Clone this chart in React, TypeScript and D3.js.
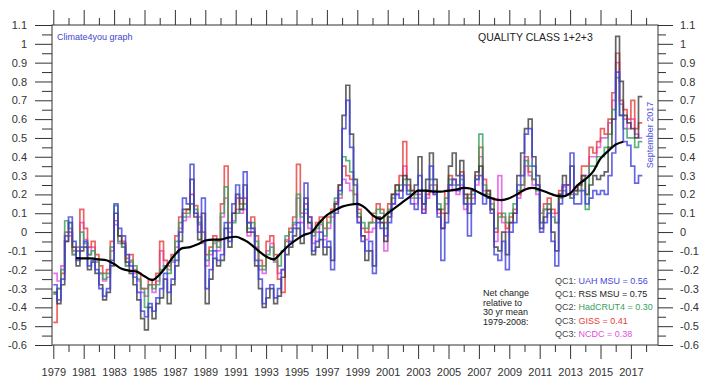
import React, { useEffect, useRef } from "react";
import * as d3 from "d3";

// quarterly anomalies (deg C, relative to 1979-2008), Q1 1979 .. Q3 2017
const uah = [
  -0.28, -0.36, -0.25, -0.02, 0.08, -0.05, -0.15, -0.08, -0.05, -0.18, -0.15, -0.2,
  -0.3, -0.34, -0.3, -0.15, 0.15, 0.02, -0.02, -0.12, -0.18, -0.24, -0.32, -0.42,
  -0.45, -0.38, -0.42, -0.35, -0.3, -0.22, -0.32, -0.25, -0.15, 0.0, 0.18, 0.15,
  0.36, 0.1, 0.0, 0.18, -0.3, -0.2, -0.1, -0.15, -0.12, 0.05, -0.05, 0.15,
  0.25, 0.18, 0.32, 0.05, 0.02, -0.15, -0.25, -0.38, -0.3, -0.28, -0.35, -0.3,
  -0.2, -0.08, -0.05, 0.02, 0.05, -0.02, 0.26, 0.08, -0.1, -0.05, 0.0, -0.08,
  -0.05, -0.2, 0.1, 0.22, 0.55, 0.7, 0.45, 0.25, 0.05, -0.05, -0.1, -0.05,
  -0.22, 0.05, 0.02, -0.02, 0.05, 0.15, 0.2, 0.18, 0.25, 0.2, 0.15, 0.12,
  0.3, 0.1, 0.22, 0.35, 0.2, 0.08, -0.15, 0.05, 0.25, 0.28, 0.22, 0.3,
  0.15, -0.02, 0.15, 0.28, 0.3, 0.15, 0.18, 0.1, -0.12, -0.15, -0.05, -0.2,
  0.0, 0.05, 0.25, 0.3, 0.52, 0.55, 0.35, 0.25, 0.0, 0.05, 0.1, -0.05,
  -0.18, 0.15, 0.25, 0.2, 0.42, 0.15, 0.15, 0.22, 0.15, 0.18, 0.22, 0.2,
  0.22, 0.2, 0.3, 0.42, 0.85, 0.62, 0.48, 0.46, 0.35, 0.26, 0.3,
];
const rss = [
  -0.32, -0.38, -0.28, -0.05, 0.05, -0.08, -0.18, -0.1, -0.08, -0.2, -0.16, -0.22,
  -0.28, -0.36, -0.32, -0.18, 0.1, -0.02, -0.06, -0.16, -0.22, -0.28, -0.36, -0.46,
  -0.52, -0.4, -0.46, -0.38, -0.35, -0.25, -0.38, -0.28, -0.18, -0.05, 0.12, 0.12,
  0.28, 0.08, -0.04, 0.1, -0.38, -0.25, -0.14, -0.18, -0.15, 0.02, -0.08, 0.1,
  0.2, 0.12, 0.25, 0.0, 0.0, -0.18, -0.3, -0.4, -0.35, -0.3, -0.38, -0.34,
  -0.24, -0.12, -0.08, -0.02, 0.02, -0.06, 0.18, 0.05, -0.12, -0.08, -0.04, -0.12,
  -0.08, -0.15, 0.15, 0.25, 0.62, 0.78, 0.52, 0.28, 0.08, -0.02, -0.15, -0.1,
  -0.18, 0.08, 0.05, -0.05, 0.08, 0.2, 0.25, 0.22, 0.3, 0.28, 0.22, 0.25,
  0.4, 0.15, 0.28, 0.42, 0.28, 0.12, 0.02, 0.1, 0.35, 0.42, 0.3, 0.38,
  0.2, 0.1, 0.22, 0.32, 0.35, 0.2, 0.22, 0.12, -0.08, -0.1, 0.0, -0.12,
  0.05, 0.1, 0.3, 0.42, 0.55, 0.6, 0.4, 0.3, 0.02, 0.08, 0.12, 0.0,
  -0.1, 0.2, 0.3, 0.25, 0.35, 0.22, 0.25, 0.3, 0.2, 0.25, 0.3, 0.28,
  0.3, 0.32, 0.45, 0.6, 1.04, 0.8, 0.62, 0.58, 0.55, 0.5, 0.72,
];
const hadcrut4 = [
  -0.33, -0.3, -0.2, 0.06, 0.02, -0.12, -0.1, 0.0, -0.06, -0.12, -0.1, -0.15,
  -0.22, -0.25, -0.22, -0.08, 0.14, -0.05, -0.08, -0.18, -0.15, -0.18, -0.25, -0.3,
  -0.4, -0.28, -0.3, -0.28, -0.2, -0.18, -0.22, -0.15, -0.05, 0.05, 0.08, 0.1,
  0.15, 0.12, 0.05, -0.05, -0.15, -0.1, -0.05, -0.08, 0.1, 0.24, 0.02, 0.05,
  0.1, 0.12, 0.15, 0.02, 0.05, -0.05, -0.18, -0.2, -0.12, -0.08, -0.15, -0.18,
  -0.1, -0.02, 0.0, 0.05, 0.2, 0.08, 0.12, 0.05, -0.02, 0.02, 0.05, -0.02,
  0.05, 0.1, 0.18, 0.2, 0.4, 0.38, 0.32, 0.15, 0.1, 0.05, 0.02, 0.05,
  0.05, 0.12, 0.1, 0.02, 0.12, 0.18, 0.22, 0.25, 0.28, 0.22, 0.2, 0.18,
  0.22, 0.15, 0.22, 0.28, 0.22, 0.15, 0.12, 0.18, 0.28, 0.25, 0.25, 0.28,
  0.15, 0.18, 0.2, 0.28, 0.52, 0.25, 0.2, 0.15, 0.02, 0.08, 0.1, 0.05,
  0.1, 0.15, 0.22, 0.25, 0.38, 0.35, 0.28, 0.22, 0.05, 0.12, 0.15, 0.08,
  0.05, 0.18, 0.22, 0.2, 0.18, 0.2, 0.22, 0.28, 0.12, 0.35, 0.35, 0.4,
  0.4, 0.45, 0.52, 0.65, 0.82, 0.62, 0.55, 0.5, 0.5, 0.45, 0.48,
];
const giss = [
  -0.48, -0.3, -0.22, 0.0, 0.0, -0.1, -0.08, 0.12, 0.02, -0.08, -0.05, -0.12,
  -0.18, -0.22, -0.2, -0.05, 0.06, -0.02, -0.05, -0.14, -0.12, -0.2, -0.22, -0.3,
  -0.3, -0.25, -0.28, -0.22, -0.05, -0.15, -0.18, -0.12, -0.02, 0.08, 0.1, 0.12,
  0.2, 0.14, 0.08, 0.0, -0.12, -0.08, -0.02, -0.05, 0.15, 0.35, 0.05, 0.1,
  0.18, 0.15, 0.18, 0.05, 0.08, -0.02, -0.15, -0.18, -0.05, -0.02, -0.12, -0.25,
  -0.32, -0.05, 0.02, 0.08, 0.36, 0.1, 0.15, 0.08, 0.0, 0.05, 0.08, 0.02,
  0.08, 0.12, 0.15, 0.25, 0.35, 0.3, 0.28, 0.2, 0.12, 0.02, 0.0, 0.05,
  0.1, 0.15, 0.12, 0.05, 0.15, 0.2, 0.25, 0.3, 0.48, 0.25, 0.22, 0.2,
  0.2, 0.12, 0.2, 0.25, 0.25, 0.12, 0.1, 0.22, 0.3, 0.28, 0.25, 0.32,
  0.18, 0.2, 0.22, 0.3, 0.45, 0.28, 0.22, 0.18, 0.0, 0.1, 0.08, 0.02,
  0.08, 0.12, 0.2, 0.25, 0.4, 0.32, 0.28, 0.25, 0.1, 0.15, 0.18, 0.12,
  0.1, 0.22, 0.25, 0.25, 0.2, 0.22, 0.25, 0.35, 0.35, 0.45, 0.42, 0.48,
  0.55, 0.52, 0.6, 0.74, 0.95, 0.7, 0.65, 0.6, 0.7, 0.55, 0.58,
];
const ncdc = [
  -0.22, -0.26, -0.18, -0.05, -0.02, -0.12, -0.1, 0.05, -0.04, -0.12, -0.08, -0.16,
  -0.22, -0.26, -0.24, -0.1, 0.04, -0.06, -0.08, -0.18, -0.16, -0.22, -0.26, -0.32,
  -0.34, -0.28, -0.32, -0.26, -0.1, -0.18, -0.2, -0.16, -0.08, 0.02, 0.06, 0.08,
  0.15, 0.1, 0.04, -0.06, -0.18, -0.12, -0.06, -0.1, 0.08, 0.18, 0.0, 0.06,
  0.12, 0.1, 0.12, -0.02, 0.02, -0.08, -0.2, -0.22, -0.1, -0.06, -0.16, -0.22,
  -0.2, -0.04, 0.0, 0.04, 0.18, 0.05, 0.1, 0.02, -0.06, 0.0, 0.04, -0.04,
  0.02, 0.08, 0.16, 0.18, 0.28, 0.26, 0.22, 0.15, 0.05, -0.02, -0.04, 0.0,
  0.02, 0.08, 0.05, -0.1, 0.1, 0.15, 0.2, 0.22, 0.35, 0.22, 0.18, 0.15,
  0.18, 0.1, 0.18, 0.22, 0.2, 0.1, 0.02, 0.15, 0.25, 0.22, 0.2, 0.25,
  0.12, 0.15, 0.18, 0.25, 0.4, 0.22, 0.18, 0.12, -0.05, 0.3, 0.05, 0.0,
  0.05, 0.1, 0.18, 0.22, 0.35, 0.3, 0.25, 0.2, 0.05, 0.12, 0.15, 0.1,
  0.05, 0.2, 0.24, 0.2, 0.18, 0.2, 0.22, 0.3, 0.3, 0.4, 0.4, 0.45,
  0.5, 0.5, 0.58, 0.7, 0.9, 0.68, 0.6, 0.55, 0.6, 0.52, 0.5,
];
// 37 month running mean, every half year from mid 1980
const smooth = [
  -0.138, -0.14, -0.14, -0.145, -0.15, -0.17, -0.195, -0.205, -0.21, -0.235, -0.255,
  -0.225, -0.175, -0.12, -0.085, -0.08, -0.065, -0.045, -0.04, -0.04, -0.03, -0.025, -0.04,
  -0.065, -0.1, -0.13, -0.145, -0.11, -0.07, -0.04, -0.015, 0.0, 0.05, 0.09, 0.115,
  0.135, 0.145, 0.15, 0.13, 0.09, 0.07, 0.1, 0.13, 0.16, 0.19, 0.22, 0.22,
  0.215, 0.215, 0.22, 0.225, 0.235, 0.23, 0.21, 0.19, 0.175, 0.17, 0.18, 0.2,
  0.225, 0.235, 0.225, 0.21, 0.195, 0.19, 0.205, 0.25, 0.28, 0.32, 0.39, 0.43,
  0.465, 0.48,
];
const smoothStart = 1980.5;

const yTicks = [1.1, 1, 0.9, 0.8, 0.7, 0.6, 0.5, 0.4, 0.3, 0.2, 0.1, 0, -0.1, -0.2, -0.3, -0.4, -0.5, -0.6];
const labelYears = [1979, 1981, 1983, 1985, 1987, 1989, 1991, 1993, 1995, 1997, 1999, 2001, 2003, 2005, 2007, 2009, 2011, 2013, 2015, 2017];

const legendTags = ["QC1:", "QC1:", "QC2:", "QC3:", "QC3:"];
const legendNames = ["UAH MSU", "RSS MSU", "HadCRUT4", "GISS", "NCDC"];
const netChange = ["0.56", "0.75", "0.30", "0.41", "0.38"];
const netText = ["Net change", "relative to", "30 yr mean", "1979-2008:"];

const FONT = "'Liberation Sans', Arial, sans-serif";

export default function App() {
  const svgRef = useRef<SVGSVGElement>(null);

  useEffect(() => {
    const svg = d3.select(svgRef.current);
    svg.selectAll("*").remove();

    const left = 52, right = 658, top = 25, bottom = 345;

    const x = d3.scaleLinear().domain([1979, 2018]).range([53.3, 646.1]);
    const y = d3.scaleLinear().domain([-0.6, 1.1]).range([bottom, top]);

    const styleAxis = (g: any) => {
      g.select(".domain").remove();
      g.selectAll("line").attr("stroke", "#333").attr("stroke-width", 1);
      g.selectAll("text").attr("font-size", 11).attr("font-family", FONT).attr("fill", "#333");
    };

    const minorY = yTicks.slice(1).map((v) => v + 0.05);
    const minorYears = labelYears.map((d) => d + 1);

    // y axes, left and right
    svg.append("g").attr("transform", `translate(${left},0)`)
      .call(d3.axisLeft(y).tickValues(yTicks).tickSize(17).tickPadding(8).tickFormat((d: any) => String(d)))
      .call(styleAxis);
    svg.append("g").attr("transform", `translate(${left},0)`)
      .call(d3.axisLeft(y).tickValues(minorY).tickSize(10).tickFormat(() => ""))
      .call(styleAxis);
    svg.append("g").attr("transform", `translate(${right},0)`)
      .call(d3.axisRight(y).tickValues(yTicks).tickSize(15).tickPadding(7).tickFormat((d: any) => String(d)))
      .call(styleAxis);
    svg.append("g").attr("transform", `translate(${right},0)`)
      .call(d3.axisRight(y).tickValues(minorY).tickSize(8).tickFormat(() => ""))
      .call(styleAxis);

    // x axes, top and bottom
    svg.append("g").attr("transform", `translate(0,${top})`)
      .call(d3.axisTop(x).tickValues(labelYears).tickSize(15).tickFormat(() => ""))
      .call(styleAxis);
    svg.append("g").attr("transform", `translate(0,${top})`)
      .call(d3.axisTop(x).tickValues(minorYears).tickSize(7).tickFormat(() => ""))
      .call(styleAxis);
    svg.append("g").attr("transform", `translate(0,${bottom})`)
      .call(d3.axisBottom(x).tickValues(labelYears).tickSize(14).tickPadding(9).tickFormat((d: any) => String(d)))
      .call(styleAxis);
    svg.append("g").attr("transform", `translate(0,${bottom})`)
      .call(d3.axisBottom(x).tickValues(minorYears).tickSize(7).tickFormat(() => ""))
      .call(styleAxis);

    svg.append("rect")
      .attr("x", left).attr("y", top)
      .attr("width", right - left).attr("height", bottom - top)
      .attr("fill", "none").attr("stroke", "#333");

    // step lines for each series
    const series = [
      { values: ncdc, color: "#e44ee4" },
      { values: giss, color: "#e83c3c" },
      { values: hadcrut4, color: "#36a05a" },
      { values: rss, color: "#3c3c3c" },
      { values: uah, color: "#4040dc" },
    ];
    const stepLine = d3.line<[number, number]>()
      .x((d) => x(d[0]))
      .y((d) => y(d[1]))
      .curve(d3.curveStepAfter);

    series.forEach((s) => {
      const pts: [number, number][] = s.values.map((v, i) => [1979 + i / 4, v]);
      pts.push([1979 + s.values.length / 4, s.values[s.values.length - 1]]);
      svg.append("path")
        .attr("d", stepLine(pts))
        .attr("fill", "none")
        .attr("stroke", s.color)
        .attr("stroke-width", 1.7)
        .attr("stroke-opacity", 0.8);
    });

    const smoothLine = d3.line<number>()
      .x((d, i) => x(smoothStart + i * 0.5))
      .y((d) => y(d))
      .curve(d3.curveMonotoneX);
    svg.append("path")
      .attr("d", smoothLine(smooth))
      .attr("fill", "none")
      .attr("stroke", "#000")
      .attr("stroke-width", 2.2);

    // titles
    svg.append("text").attr("x", 57).attr("y", 40)
      .attr("font-size", 9).attr("font-family", FONT).attr("fill", "#4444cc")
      .text("Climate4you graph");
    svg.append("text").attr("x", 478).attr("y", 41)
      .attr("font-size", 10.5).attr("font-family", FONT).attr("fill", "#222")
      .text("QUALITY CLASS 1+2+3");
    svg.append("text")
      .attr("transform", "translate(653,135) rotate(-90)")
      .attr("text-anchor", "middle")
      .attr("font-size", 9).attr("font-family", FONT).attr("fill", "#5050dd")
      .text("September 2017");

    // legend
    const legendColors = ["#4848d8", "#222", "#3aa060", "#e83a3a", "#e050e0"];
    legendNames.forEach((name, i) => {
      const t = svg.append("text")
        .attr("x", 555).attr("y", 284 + i * 13.2)
        .attr("font-size", 9).attr("font-family", FONT);
      t.append("tspan").attr("fill", "#444").text(legendTags[i] + " ");
      t.append("tspan").attr("fill", legendColors[i]).text(`${name} = ${netChange[i]}`);
    });
    netText.forEach((line, i) => {
      svg.append("text")
        .attr("x", 483).attr("y", 296 + i * 9.5)
        .attr("font-size", 9).attr("font-family", FONT).attr("fill", "#222")
        .text(line);
    });
  }, []);

  return (
    <div style={{ position: "absolute", left: 0, top: 0 }}>
      <svg ref={svgRef} width={706} height={387} style={{ display: "block", background: "#fff" }} />
    </div>
  );
}
